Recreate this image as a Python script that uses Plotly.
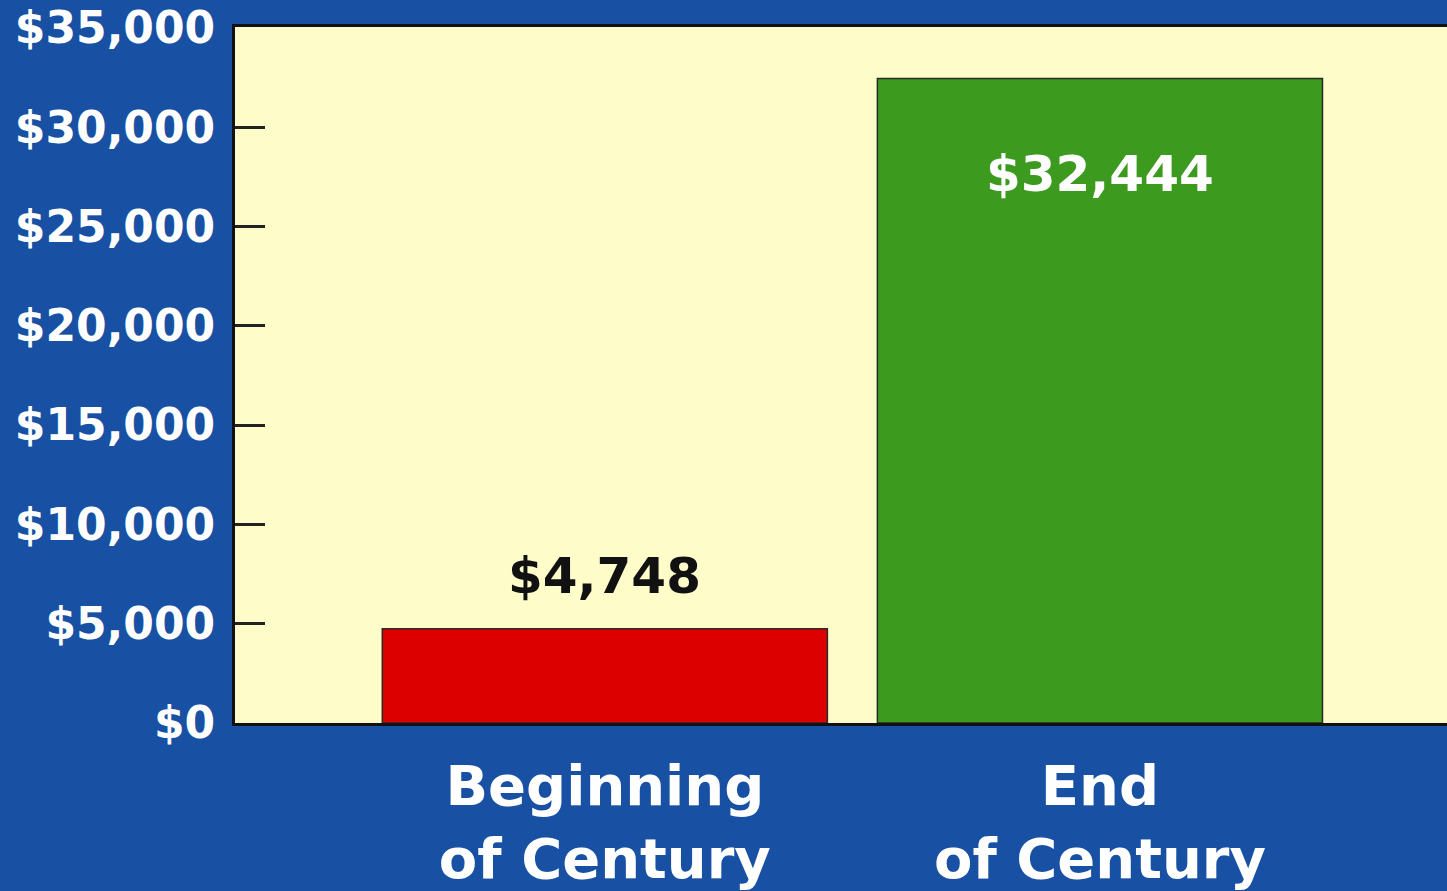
import plotly.graph_objects as go

categories = ["Beginning<br>of Century", "End<br>of Century"]
values = [4748, 32444]
value_labels = ["$4,748", "$32,444"]
bar_colors = ["#dd0000", "#3c9a1e"]
tick_vals = [0, 5000, 10000, 15000, 20000, 25000, 30000, 35000]
tick_text = ["$0", "$5,000", "$10,000", "$15,000", "$20,000", "$25,000", "$30,000", "$35,000"]

BLUE = "#1850a4"
CREAM = "#fefcc8"
FONT = "DejaVu Sans"

fig = go.Figure()
fig.add_trace(go.Bar(
    x=[0, 1], y=values,
    marker=dict(color=bar_colors, line=dict(color="#2a2a2a", width=1.5)),
    width=0.899,
    hoverinfo="skip",
))

# value labels
fig.add_annotation(x=0, y=values[0], text=value_labels[0], showarrow=False,
                   yanchor="middle", yshift=53,
                   font=dict(family=FONT, size=50, color="#111111", weight="bold"))
fig.add_annotation(x=1, y=values[1], text=value_labels[1], showarrow=False,
                   yanchor="middle", yshift=-95,
                   font=dict(family=FONT, size=50, color="#ffffff", weight="bold"))

fig.update_layout(
    width=1447, height=891,
    paper_bgcolor=BLUE, plot_bgcolor=CREAM,
    margin=dict(l=235, r=0, t=27, b=168),
    showlegend=False,
    bargap=0.1,
)
fig.update_xaxes(
    range=[-0.747, 1.701],
    tickmode="array", tickvals=[0, 1], ticktext=categories,
    tickfont=dict(family=FONT, size=56, color="#ffffff", weight="bold"),
    showline=True, linecolor="#111111", linewidth=3, mirror=True,
    showgrid=False, ticks="", zeroline=False,
    ticklabelstandoff=12,
)
fig.update_yaxes(
    range=[0, 35040],
    tickmode="array", tickvals=tick_vals, ticktext=tick_text,
    tickfont=dict(family=FONT, size=44, color="#ffffff", weight="bold"),
    showline=True, linecolor="#111111", linewidth=3,
    ticks="inside", ticklen=30, tickwidth=3, tickcolor="#222222",
    ticklabelstandoff=8,
    showgrid=False, zeroline=False,
)

fig.write_html("out.html",
               config={"displayModeBar": False},
               post_script="document.body.style.margin='0';document.body.style.overflow='hidden';")
